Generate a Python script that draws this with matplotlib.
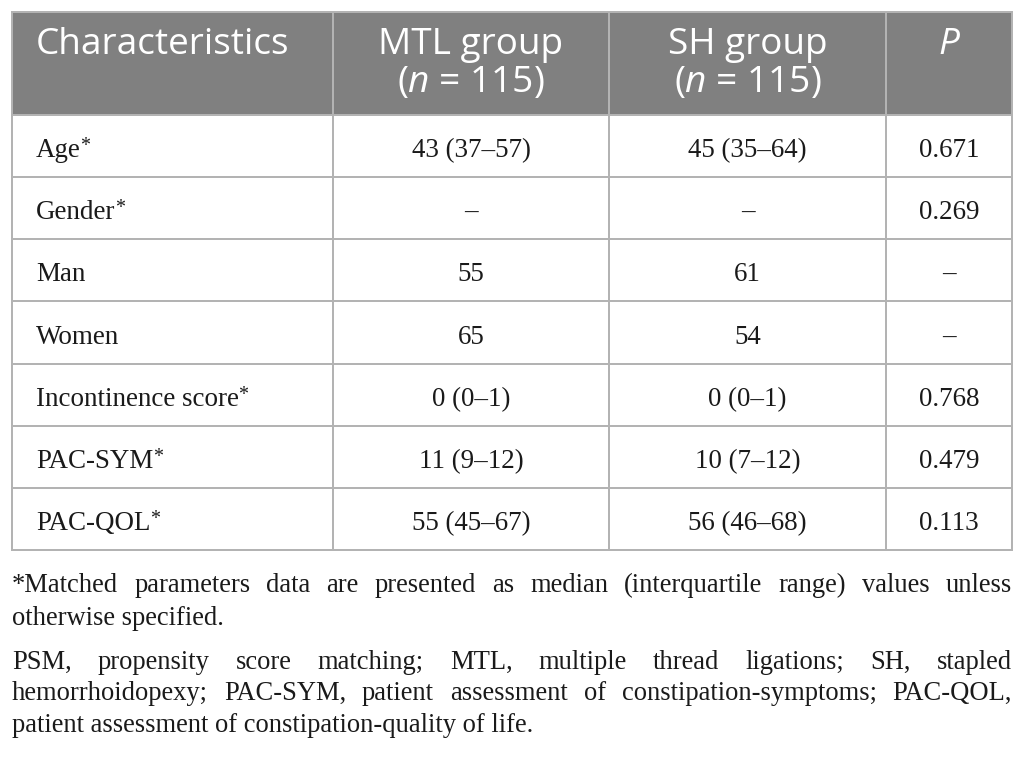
import matplotlib
matplotlib.use("Agg")
import matplotlib.pyplot as plt
from matplotlib.patches import Rectangle

# ---------------- data ----------------
header_labels = ["Characteristics", "MTL group", "SH group", "P"]
header_sub = ["", "($\\mathit{n}$ = 115)", "($\\mathit{n}$ = 115)", ""]
characteristics = ["Age*", "Gender*", "Man", "Women", "Incontinence score*", "PAC-SYM*", "PAC-QOL*"]
mtl_values = ["43 (37–57)", "–", "55", "65", "0 (0–1)", "11 (9–12)", "55 (45–67)"]
sh_values = ["45 (35–64)", "–", "61", "54", "0 (0–1)", "10 (7–12)", "56 (46–68)"]
p_values = ["0.671", "0.269", "–", "–", "0.768", "0.479", "0.113"]
footnote_lines = [
    ("*Matched parameters data are presented as median (interquartile range) values unless", True),
    ("otherwise specified.", False),
    ("PSM, propensity score matching; MTL, multiple thread ligations; SH, stapled", True),
    ("hemorrhoidopexy; PAC-SYM, patient assessment of constipation-symptoms; PAC-QOL,", True),
    ("patient assessment of constipation-quality of life.", False),
]

# ---------------- style ----------------
W, H, DPI = 1025, 760, 100
plt.rcParams["mathtext.fontset"] = "custom"
plt.rcParams["mathtext.rm"] = "Open Sans"
plt.rcParams["mathtext.it"] = "Open Sans:italic"

def pt(px):
    return px * 72.0 / DPI

HEADER_BG = "#808080"
GRID = "#b3b3b3"
TEXT = "#1a1a1a"
HEAD_FS = pt(37)
BODY_FS = pt(27)
STAR_FS = pt(20)
FOOT_FS = pt(26.5)
SERIF = "Liberation Serif"
SANS = "Open Sans"

col_x = [12, 333, 609, 886, 1012]
head_top, head_bot = 12, 115
row_h = (550 - 115) / 7.0

fig = plt.figure(figsize=(W / DPI, H / DPI), dpi=DPI)
ax = fig.add_axes([0, 0, 1, 1])
ax.set_xlim(0, W)
ax.set_ylim(H, 0)
ax.axis("off")
fig.canvas.draw()
renderer = fig.canvas.get_renderer()

# header background
ax.add_patch(Rectangle((col_x[0], head_top), col_x[-1] - col_x[0], head_bot - head_top,
                       facecolor=HEADER_BG, edgecolor="none", zorder=1))

n_rows = len(characteristics)
table_bot = head_bot + n_rows * row_h

# grid lines
lw = 2 * 72.0 / DPI
for x in col_x:
    ax.plot([x, x], [head_top, table_bot], color=GRID, lw=lw, zorder=2, solid_capstyle="butt")
ax.plot([col_x[0], col_x[-1]], [head_top, head_top], color=GRID, lw=lw, zorder=2)
for i in range(n_rows + 1):
    y = head_bot + i * row_h
    ax.plot([col_x[0], col_x[-1]], [y, y], color=GRID, lw=lw, zorder=2)

# header text
L1, L2 = 54, 92
for j, (lab, sub) in enumerate(zip(header_labels, header_sub)):
    if j == 0:
        ax.text(36, L1, lab, color="white", fontsize=HEAD_FS, family=SANS,
                ha="left", va="baseline", zorder=3)
    else:
        cx = (col_x[j] + col_x[j + 1]) / 2
        style = "italic" if lab == "P" else "normal"
        ax.text(cx, L1, lab, color="white", fontsize=HEAD_FS, family=SANS, style=style,
                ha="center", va="baseline", zorder=3)
        if sub:
            ax.text(cx, L2, sub, color="white", fontsize=HEAD_FS, family=SANS,
                    ha="center", va="baseline", zorder=3)

# body
for i in range(n_rows):
    yb = head_bot + i * row_h + row_h / 2 + 11
    label = characteristics[i]
    star = label.endswith("*")
    base = label[:-1] if star else label
    t = ax.text(36, yb, base, fontsize=BODY_FS, family=SERIF, color=TEXT,
                ha="left", va="baseline", zorder=3)
    if star:
        bb = t.get_window_extent(renderer=renderer)
        ax.text(36 + bb.width - 0.5, yb - 6, "*", fontsize=STAR_FS, family=SERIF, color=TEXT,
                ha="left", va="baseline", zorder=3)
    for j, vals in enumerate([mtl_values, sh_values, p_values], start=1):
        cx = (col_x[j] + col_x[j + 1]) / 2
        ax.text(cx, yb, vals[i], fontsize=BODY_FS, family=SERIF, color=TEXT,
                ha="center", va="baseline", zorder=3)

# footnotes (justified)
foot_baselines = [592, 625, 669, 700, 732]
left, right = 12, 1012
for (line, justify), yb in zip(footnote_lines, foot_baselines):
    if not justify:
        ax.text(left, yb, line, fontsize=FOOT_FS, family=SERIF, color=TEXT, ha="left", va="baseline")
        continue
    words = line.split(" ")
    arts = []
    widths = []
    for w in words:
        t = ax.text(0, yb, w, fontsize=FOOT_FS, family=SERIF, color=TEXT, ha="left", va="baseline")
        bb = t.get_window_extent(renderer=renderer)
        arts.append(t)
        widths.append(bb.width)
    gap = (right - left - sum(widths)) / (len(words) - 1)
    x = left
    for t, wdt in zip(arts, widths):
        t.set_x(x)
        x += wdt + gap

fig.savefig("out.png", dpi=DPI, facecolor="white")
